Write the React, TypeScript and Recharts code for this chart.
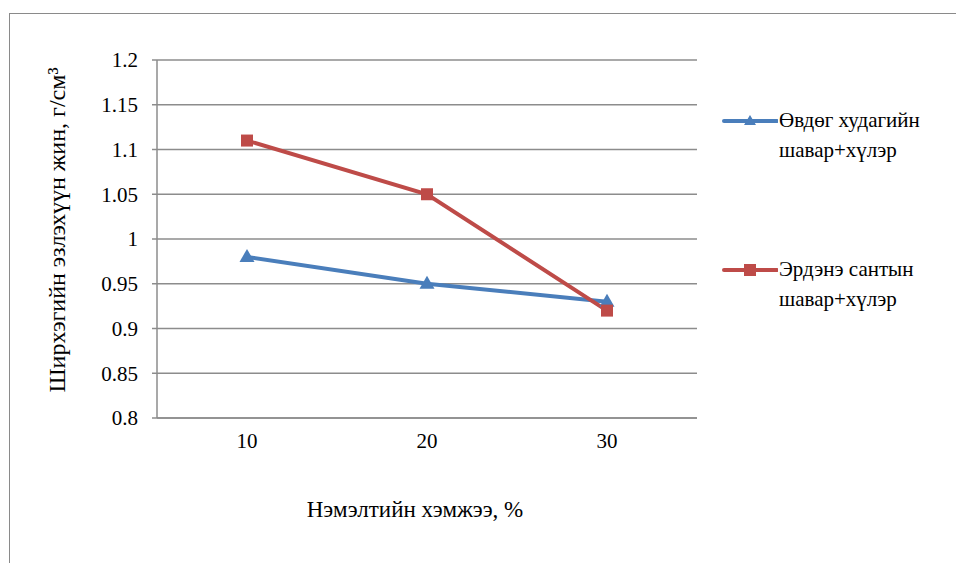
import { LineChart, Line, XAxis, YAxis, CartesianGrid, Legend, Label } from "recharts";

// Нэмэлтийн хэмжээ (%)
const categories = ["10", "20", "30"];
// Өвдөг худагийн шавар+хүлэр
const ovdogValues = [0.98, 0.95, 0.93];
// Эрдэнэ сантын шавар+хүлэр
const erdeneValues = [1.11, 1.05, 0.92];
const yTicks = [0.8, 0.85, 0.9, 0.95, 1, 1.05, 1.1, 1.15, 1.2];

const seriesNames = ["Өвдөг худагийн шавар+хүлэр", "Эрдэнэ сантын шавар+хүлэр"];

const data = categories.map((c, i) => ({
  x: c,
  ovdog: ovdogValues[i],
  erdene: erdeneValues[i],
}));

const BLUE = "#4a7ebb";
const RED = "#be4b48";
const GRID = "#8c8c8c";
const FONT = "'Liberation Serif', 'Times New Roman', serif";

const Triangle = (props: any) => {
  const { cx, cy } = props;
  if (cx == null || cy == null) return null;
  return <path d={`M${cx},${cy - 8} L${cx + 7.5},${cy + 5} L${cx - 7.5},${cy + 5} Z`} fill={BLUE} />;
};

const Square = (props: any) => {
  const { cx, cy } = props;
  if (cx == null || cy == null) return null;
  return <rect x={cx - 6} y={cy - 6} width={12} height={12} fill={RED} />;
};

// legend: line sample with marker, two-line text
const LegendContent = () => {
  const items = [
    { color: BLUE, shape: "triangle", lines: ["Өвдөг худагийн", "шавар+хүлэр"] },
    { color: RED, shape: "square", lines: ["Эрдэнэ сантын", "шавар+хүлэр"] },
  ];
  return (
    <div style={{ fontFamily: FONT, fontSize: 21, color: "#000" }}>
      {items.map((it, i) => (
        <div key={i} style={{ display: "flex", alignItems: "flex-start", marginBottom: i === 0 ? 94 : 0 }} title={seriesNames[i]}>
          <svg width={56} height={20} style={{ marginTop: 1, flexShrink: 0 }}>
            <line x1={2} y1={10} x2={55} y2={10} stroke={it.color} strokeWidth={4} strokeLinecap="round" />
            {it.shape === "triangle" ? (
              <path d="M28,4 L34,14 L22,14 Z" fill={it.color} />
            ) : (
              <rect x={22} y={4} width={12} height={12} fill={it.color} />
            )}
          </svg>
          <div style={{ lineHeight: "30px", marginTop: -5, marginLeft: 1, whiteSpace: "nowrap" }}>
            {it.lines.map((l, j) => (
              <div key={j}>{l}</div>
            ))}
          </div>
        </div>
      ))}
    </div>
  );
};

export default function App() {
  return (
    <div style={{ position: "fixed", left: 0, top: 0, width: 956, height: 563, overflow: "hidden", background: "#fff" }}>
      <div
        style={{
          position: "absolute",
          left: 9,
          top: 13,
          width: 1000,
          height: 600,
          border: "1.5px solid #8a8a8a",
          boxSizing: "border-box",
        }}
      />
      <div style={{ position: "absolute", left: 0, top: 0 }}>
        <LineChart
          width={956}
          height={563}
          data={data}
          margin={{ top: 60, right: 259, left: 97, bottom: 115 }}
          style={{ fontFamily: FONT }}
        >
          <CartesianGrid vertical={false} stroke={GRID} strokeWidth={1.5} />
          <XAxis
            dataKey="x"
            padding={{ left: 90, right: 90 }}
            height={30}
            axisLine={{ stroke: GRID, strokeWidth: 1.5 }}
            tickLine={false}
            tick={{ fill: "#000", fontSize: 21, fontFamily: FONT }}
            tickMargin={9}
          >
            <Label
              value="Нэмэлтийн хэмжээ, %"
              position="bottom"
              offset={53}
              dx={-12}
              style={{ fill: "#000", fontSize: 23, fontFamily: FONT }}
            />
          </XAxis>
          <YAxis
            type="number"
            domain={[0.8, 1.2]}
            ticks={yTicks}
            width={60}
            axisLine={{ stroke: GRID, strokeWidth: 1.5 }}
            tickLine={{ stroke: GRID, strokeWidth: 1.5 }}
            tickSize={5}
            tickMargin={14}
            tickFormatter={(v: number) => String(+v.toFixed(2))}
            tick={{ fill: "#000", fontSize: 21, fontFamily: FONT }}
          >
            <Label
              content={(props: any) => {
                const vb = props.viewBox || {};
                const cx = vb.x - 40;
                const cy = vb.y + vb.height / 2 - 9;
                return (
                  <text
                    x={cx}
                    y={cy}
                    transform={`rotate(-90 ${cx} ${cy})`}
                    textAnchor="middle"
                    dominantBaseline="central"
                    style={{ fill: "#000", fontSize: 24, fontFamily: FONT }}
                  >
                    Ширхэгийн эзлэхүүн жин, г/см³
                  </text>
                );
              }}
            />
          </YAxis>
          <Legend
            layout="horizontal"
            verticalAlign="middle"
            align="center"
            content={<LegendContent />}
            wrapperStyle={{ left: 722, top: 110, width: 234 }}
          />
          <Line
            name={seriesNames[0]}
            dataKey="ovdog"
            stroke={BLUE}
            strokeWidth={4}
            dot={<Triangle />}
            activeDot={false}
            isAnimationActive={false}
          />
          <Line
            name={seriesNames[1]}
            dataKey="erdene"
            stroke={RED}
            strokeWidth={4}
            dot={<Square />}
            activeDot={false}
            isAnimationActive={false}
          />
        </LineChart>
      </div>
    </div>
  );
}
